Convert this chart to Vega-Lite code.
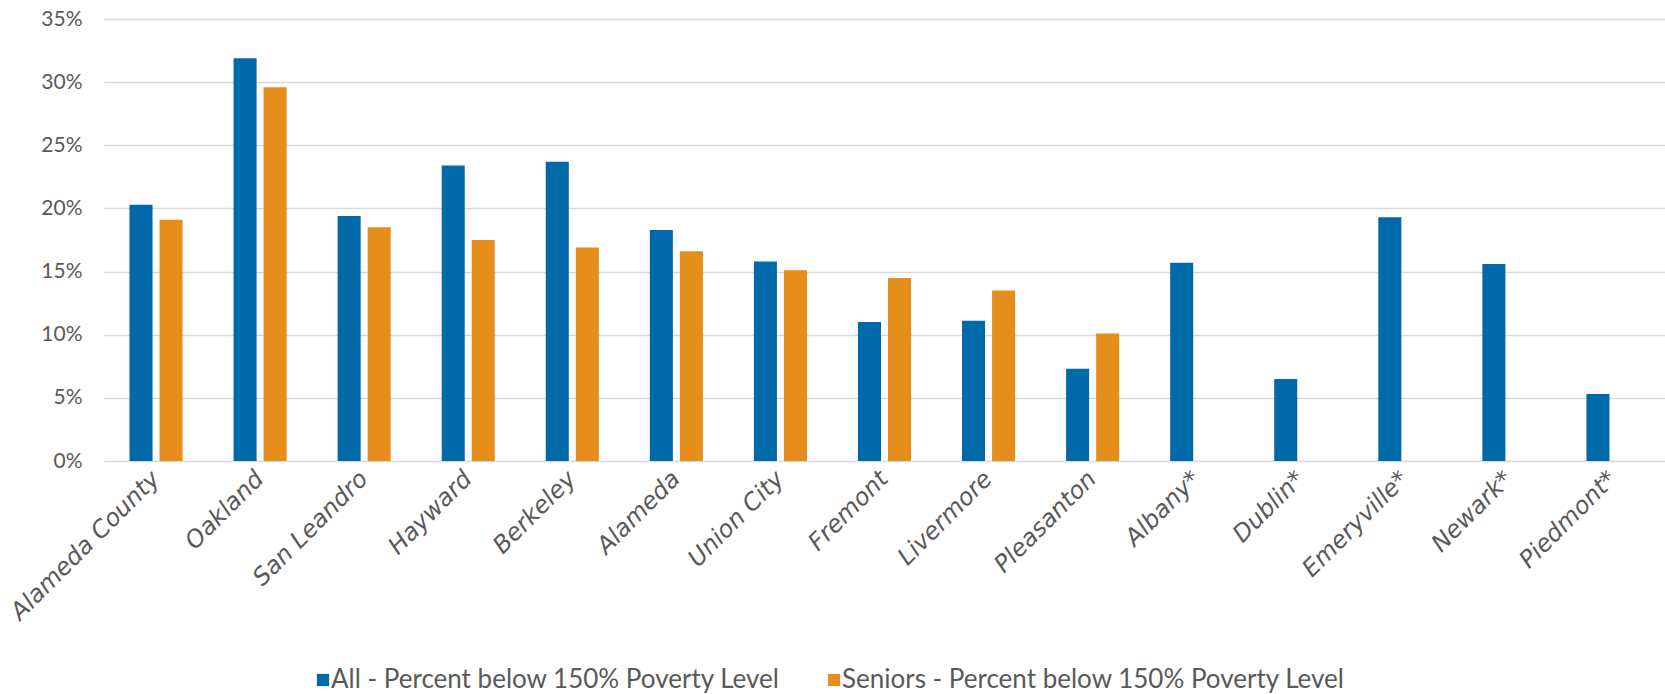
{
  "$schema": "https://vega.github.io/schema/vega-lite/v6.json",
  "autosize": "none",
  "width": 1561,
  "height": 442,
  "padding": {"left": 104, "top": 19, "right": 0, "bottom": 233},
  "background": "white",
  "config": {
    "view": {"stroke": null},
    "font": "Lato",
    "legend": {"orient": "none", "legendX": 206, "legendY": 648}
  },
  "data": {
    "values": [
      {"city": "Alameda County", "series": "All - Percent below 150% Poverty Level", "value": 0.203},
      {"city": "Alameda County", "series": "Seniors - Percent below 150% Poverty Level", "value": 0.191},
      {"city": "Oakland", "series": "All - Percent below 150% Poverty Level", "value": 0.319},
      {"city": "Oakland", "series": "Seniors - Percent below 150% Poverty Level", "value": 0.296},
      {"city": "San Leandro", "series": "All - Percent below 150% Poverty Level", "value": 0.194},
      {"city": "San Leandro", "series": "Seniors - Percent below 150% Poverty Level", "value": 0.185},
      {"city": "Hayward", "series": "All - Percent below 150% Poverty Level", "value": 0.234},
      {"city": "Hayward", "series": "Seniors - Percent below 150% Poverty Level", "value": 0.175},
      {"city": "Berkeley", "series": "All - Percent below 150% Poverty Level", "value": 0.237},
      {"city": "Berkeley", "series": "Seniors - Percent below 150% Poverty Level", "value": 0.169},
      {"city": "Alameda", "series": "All - Percent below 150% Poverty Level", "value": 0.183},
      {"city": "Alameda", "series": "Seniors - Percent below 150% Poverty Level", "value": 0.166},
      {"city": "Union City", "series": "All - Percent below 150% Poverty Level", "value": 0.158},
      {"city": "Union City", "series": "Seniors - Percent below 150% Poverty Level", "value": 0.151},
      {"city": "Fremont", "series": "All - Percent below 150% Poverty Level", "value": 0.110},
      {"city": "Fremont", "series": "Seniors - Percent below 150% Poverty Level", "value": 0.145},
      {"city": "Livermore", "series": "All - Percent below 150% Poverty Level", "value": 0.111},
      {"city": "Livermore", "series": "Seniors - Percent below 150% Poverty Level", "value": 0.135},
      {"city": "Pleasanton", "series": "All - Percent below 150% Poverty Level", "value": 0.073},
      {"city": "Pleasanton", "series": "Seniors - Percent below 150% Poverty Level", "value": 0.101},
      {"city": "Albany*", "series": "All - Percent below 150% Poverty Level", "value": 0.157},
      {"city": "Dublin*", "series": "All - Percent below 150% Poverty Level", "value": 0.065},
      {"city": "Emeryville*", "series": "All - Percent below 150% Poverty Level", "value": 0.193},
      {"city": "Newark*", "series": "All - Percent below 150% Poverty Level", "value": 0.156},
      {"city": "Piedmont*", "series": "All - Percent below 150% Poverty Level", "value": 0.053}
    ]
  },
  "mark": {"type": "bar"},
  "encoding": {
    "x": {
      "field": "city",
      "type": "nominal",
      "sort": null,
      "title": null,
      "scale": {"paddingInner": 0.49, "paddingOuter": 0.245},
      "axis": {
        "labelAngle": -45,
        "labelAlign": "right",
        "labelBaseline": "middle",
        "labelFont": "DejaVu Sans",
        "labelFontSize": 24,
        "labelFontStyle": "italic",
        "labelColor": "#595959",
        "labelPadding": 14,
        "labelLimit": 400,
        "ticks": false,
        "domain": false,
        "grid": false
      }
    },
    "xOffset": {
      "field": "series",
      "type": "nominal",
      "sort": ["All - Percent below 150% Poverty Level", "Seniors - Percent below 150% Poverty Level"],
      "scale": {"paddingInner": 0.233, "paddingOuter": 0}
    },
    "y": {
      "field": "value",
      "type": "quantitative",
      "title": null,
      "scale": {"domain": [0, 0.35], "nice": false},
      "axis": {
        "values": [0, 0.05, 0.1, 0.15, 0.2, 0.25, 0.3, 0.35],
        "format": ".0%",
        "labelFontSize": 21,
        "labelColor": "#595959",
        "labelPadding": 22,
        "ticks": false,
        "domain": false,
        "gridColor": "#d9d9d9",
        "gridWidth": 1.5
      }
    },
    "color": {
      "field": "series",
      "type": "nominal",
      "sort": ["All - Percent below 150% Poverty Level", "Seniors - Percent below 150% Poverty Level"],
      "scale": {
        "domain": ["All - Percent below 150% Poverty Level", "Seniors - Percent below 150% Poverty Level"],
        "range": ["#0069aa", "#e58e1b"]
      },
      "legend": {
        "title": null,
        "direction": "horizontal",
        "symbolType": "square",
        "symbolSize": 150,
        "symbolStrokeWidth": 0,
        "labelFontSize": 26,
        "labelColor": "#595959",
        "labelOffset": -5,
        "columnPadding": 40,
        "labelLimit": 700
      }
    }
  }
}
